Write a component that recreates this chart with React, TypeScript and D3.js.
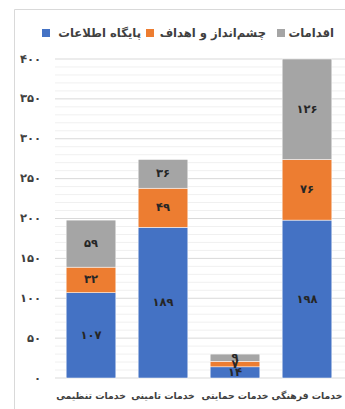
import * as d3 from "d3";

const categories = ["خدمات تنظیمی", "خدمات تامینی", "خدمات حمایتی", "خدمات فرهنگی"];
const seriesNames = ["پایگاه اطلاعات", "چشم‌انداز و اهداف", "اقدامات"];
const colors = ["#4472C4", "#ED7D31", "#A5A5A5"];
const databaseValues = [107, 189, 14, 198];
const visionValues = [32, 49, 7, 76];
const actionValues = [59, 36, 9, 126];
const yTicks = [0, 50, 100, 150, 200, 250, 300, 350, 400];

const font = "'DejaVu Sans', sans-serif";

function fa(n: number) {
  return String(n).replace(/\d/g, (d) => "۰۱۲۳۴۵۶۷۸۹"[+d]);
}

export default function App() {
  const w = 345;
  const h = 409;
  const x = d3.scaleBand().domain(categories).range([55, 343]).paddingInner(0.31).paddingOuter(0.155);
  const y = d3.scaleLinear().domain([0, 400]).range([378, 59]);

  const rows = categories.map((c, i) => ({
    cat: c,
    s0: databaseValues[i],
    s1: visionValues[i],
    s2: actionValues[i],
  }));
  const stack = d3.stack<any>().keys(["s0", "s1", "s2"])(rows);
  const minor = d3.range(0, 401, 10).filter((v) => v % 50 !== 0);

  // legend items, laid out right to left
  const legend = [
    { name: seriesNames[2], color: colors[2], textRight: 334, box: 277 },
    { name: seriesNames[1], color: colors[1], textRight: 266, box: 146 },
    { name: seriesNames[0], color: colors[0], textRight: 141, box: 42 },
  ];

  return (
    <svg width={w} height={h} style={{ position: "absolute", left: 0, top: 0 }}>
      <rect width={w} height={h} fill="white" />
      <path d={`M14.5,${h} V9.5 H${w}`} fill="none" stroke="#d9d9d9" />

      {legend.map((l) => (
        <g key={l.name}>
          <rect x={l.box} y={29} width={8} height={8} fill={l.color} />
          <text
            x={l.textRight}
            y={33}
            textAnchor="end"
            dominantBaseline="middle"
            fontFamily={font}
            fontWeight="bold"
            fontSize={11.6}
            fill="#404040"
          >
            {l.name}
          </text>
        </g>
      ))}

      {minor.map((v) => (
        <line key={"m" + v} x1={55} x2={w} y1={y(v)} y2={y(v)} stroke="#f0f0f0" />
      ))}
      {yTicks.map((v) => (
        <g key={v}>
          <line x1={55} x2={w} y1={y(v)} y2={y(v)} stroke="#d9d9d9" />
          <text
            x={41}
            y={y(v)}
            textAnchor="end"
            dominantBaseline="middle"
            fontFamily={font}
            fontWeight="bold"
            fontSize={11.5}
            fill="#404040"
          >
            {fa(v)}
          </text>
        </g>
      ))}

      {stack.map((layer, si) => (
        <g key={si}>
          {layer.map((d: any) => (
            <rect
              key={d.data.cat}
              x={x(d.data.cat)}
              y={y(d[1])}
              width={x.bandwidth()}
              height={y(d[0]) - y(d[1])}
              fill={colors[si]}
              stroke="white"
              strokeWidth={0.5}
            />
          ))}
        </g>
      ))}
      {stack.map((layer, si) => (
        <g key={"l" + si}>
          {layer.map((d: any) => (
            <text
              key={d.data.cat}
              x={(x(d.data.cat) || 0) + x.bandwidth() / 2}
              y={(y(d[0]) + y(d[1])) / 2}
              textAnchor="middle"
              dominantBaseline="middle"
              fontFamily={font}
              fontWeight="bold"
              fontSize={11.5}
              fill="#262626"
            >
              {fa(d[1] - d[0])}
            </text>
          ))}
        </g>
      ))}

      {categories.map((c) => (
        <text
          key={c}
          x={(x(c) || 0) + x.bandwidth() / 2}
          y={396}
          textAnchor="middle"
          dominantBaseline="middle"
          fontFamily={font}
          fontWeight="bold"
          fontSize={9.3}
          fill="#404040"
        >
          {c}
        </text>
      ))}
    </svg>
  );
}
